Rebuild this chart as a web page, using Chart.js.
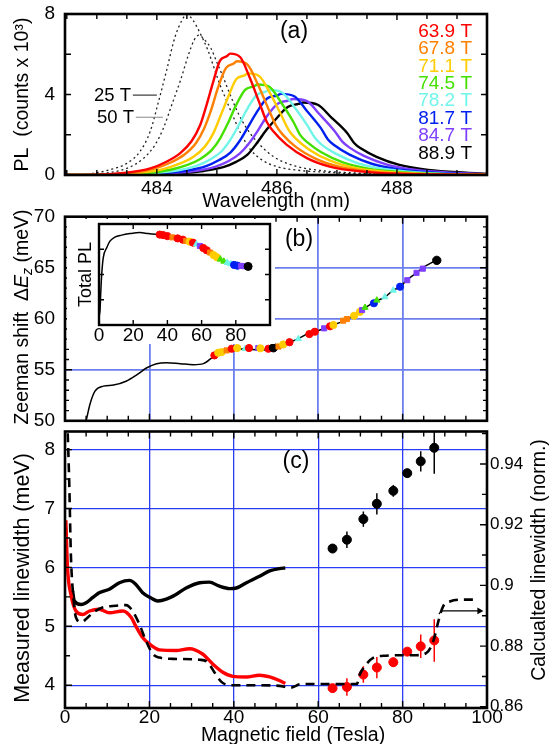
<!DOCTYPE html>
<html>
<head>
<meta charset="utf-8">
<script src="https://cdn.jsdelivr.net/npm/chart.js@4.4.1/dist/chart.umd.min.js"></script>
<style>
  html, body { margin: 0; padding: 0; background: #fff; }
  #wrap { position: relative; width: 554px; height: 744px; overflow: hidden; }
  canvas { position: absolute; }
</style>
</head>
<body>
<div id="wrap">
  <canvas id="chartA" style="left:0;top:0" width="554" height="213"></canvas>
  <canvas id="chartB" style="left:0;top:190px" width="554" height="236"></canvas>
  <canvas id="chartInset" style="left:67px;top:219px;background:#fff" width="208" height="125"></canvas>
  <canvas id="chartC" style="left:0;top:426px" width="554" height="318"></canvas>
</div>
<script>
// ---- data ----
const fieldLabels = ['63.9 T', '67.8 T', '71.1 T', '74.5 T', '78.2 T', '81.7 T', '84.7 T', '88.9 T'];
const seriesColors = ['#ff0000', '#ff8000', '#ffcc00', '#44e000', '#70f5e8', '#0020f0', '#7f3fff', '#000000'];
const seriesShapes = ['circle', 'rect', 'circle', 'triangle', 'triangle', 'circle', 'rect', 'circle'];

// (a) PL spectra: [wavelength (nm), counts x 1000]
const spec63_9 = [[482.5,0],[482.82,0],[483.50,0.12],[483.89,0.33],[484.16,0.66],[484.39,1.09],[484.58,1.69],[484.72,2.47],[484.83,3.50],[484.94,4.64],[485.05,5.67],[485.17,5.91],[485.22,6.03],[485.39,5.85],[485.55,4.82],[485.72,3.50],[485.83,2.65],[485.94,2.17],[486.16,1.51],[486.50,0.84],[486.88,0.42],[487.39,0.18],[488.02,0.06],[489.5,0.01]];
const spec67_8 = [[482.5,0],[482.90,0],[483.55,0.11],[483.95,0.31],[484.23,0.62],[484.46,1.02],[484.65,1.58],[484.79,2.32],[484.91,3.28],[485.02,4.35],[485.15,5.31],[485.28,5.54],[485.33,5.65],[485.51,5.48],[485.68,4.52],[485.86,3.28],[485.98,2.49],[486.09,2.03],[486.31,1.41],[486.66,0.79],[487.05,0.40],[487.58,0.17],[488.21,0.06],[489.5,0.01]];
const spec71_1 = [[482.5,0],[483.05,0],[483.68,0.10],[484.09,0.28],[484.38,0.56],[484.61,0.91],[484.80,1.41],[484.94,2.07],[485.06,2.93],[485.19,3.89],[485.32,4.75],[485.46,4.95],[485.52,5.05],[485.71,4.90],[485.89,4.04],[486.08,2.93],[486.20,2.22],[486.31,1.82],[486.54,1.26],[486.89,0.71],[487.30,0.35],[487.84,0.15],[488.48,0.05],[489.5,0.01]];
const spec74_5 = [[482.5,0],[483.18,0],[483.78,0.09],[484.21,0.25],[484.51,0.50],[484.73,0.81],[484.92,1.26],[485.06,1.85],[485.19,2.61],[485.32,3.47],[485.47,4.23],[485.62,4.41],[485.68,4.50],[485.88,4.37],[486.07,3.60],[486.28,2.61],[486.39,1.98],[486.51,1.62],[486.74,1.13],[487.10,0.63],[487.52,0.32],[488.08,0.14],[488.72,0.05],[489.5,0.02]];
const spec78_2 = [[482.5,0],[483.34,0],[483.91,0.08],[484.36,0.23],[484.67,0.46],[484.88,0.76],[485.08,1.18],[485.22,1.73],[485.36,2.45],[485.50,3.25],[485.66,3.97],[485.81,4.14],[485.88,4.22],[486.09,4.09],[486.29,3.38],[486.51,2.45],[486.63,1.86],[486.74,1.52],[486.98,1.06],[487.34,0.59],[487.78,0.30],[488.36,0.13],[489.00,0.04],[489.5,0.02]];
const spec81_7 = [[482.5,0],[483.50,0],[484.04,0.08],[484.50,0.22],[484.82,0.44],[485.03,0.73],[485.23,1.13],[485.37,1.65],[485.51,2.34],[485.66,3.10],[485.83,3.79],[486.00,3.95],[486.07,4.03],[486.29,3.91],[486.49,3.22],[486.73,2.34],[486.85,1.77],[486.97,1.45],[487.21,1.01],[487.58,0.56],[488.03,0.28],[488.63,0.12],[489.27,0.04],[489.5,0.03]];
const spec84_7 = [[482.5,0],[483.66,0],[484.18,0.08],[484.66,0.21],[484.98,0.42],[485.19,0.68],[485.38,1.06],[485.53,1.55],[485.68,2.19],[485.83,2.91],[486.02,3.55],[486.19,3.70],[486.27,3.78],[486.50,3.67],[486.71,3.02],[486.96,2.19],[487.09,1.66],[487.21,1.36],[487.45,0.95],[487.82,0.53],[488.29,0.26],[488.90,0.11],[489.5,0.04]];
const spec88_9 = [[482.5,0],[483.80,0],[484.29,0.07],[484.78,0.20],[485.12,0.40],[485.32,0.65],[485.51,1.01],[485.67,1.60],[485.82,2.22],[485.98,2.77],[486.18,3.38],[486.36,3.53],[486.44,3.60],[486.68,3.49],[486.90,2.88],[487.17,2.09],[487.29,1.58],[487.41,1.30],[487.66,0.90],[488.04,0.50],[488.52,0.25],[489.15,0.11],[489.5,0.06]];
const spec25T = [[482.5,0],[482.8,0.03],[483.2,0.25],[483.5,0.58],[483.72,1.17],[483.89,2.17],[484.03,3.67],[484.16,5.17],[484.3,6.83],[484.42,7.7],[484.5,7.98],[484.6,7.7],[484.72,7.05],[484.85,6.2],[484.95,5.35],[485.05,4.5],[485.16,3.7],[485.28,2.85],[485.4,2.05],[485.55,1.3],[485.75,0.75],[486.0,0.42],[486.4,0.22],[486.8,0.14],[487.3,0.05],[488.0,0],[489.5,0]];
const spec50T = [[482.5,0],[483.1,0.08],[483.5,0.33],[483.78,0.83],[483.97,1.5],[484.11,2.33],[484.25,3.5],[484.39,4.67],[484.53,6.0],[484.62,6.7],[484.7,6.95],[484.8,6.7],[484.9,6.3],[485.0,5.6],[485.1,4.9],[485.22,4.0],[485.35,3.1],[485.5,2.3],[485.7,1.55],[485.95,0.9],[486.3,0.45],[486.8,0.2],[487.3,0.1],[488.0,0.03],[489.5,0]];
const spectra = [spec63_9, spec67_8, spec71_1, spec74_5, spec78_2, spec81_7, spec84_7, spec88_9];

// (b) Zeeman shift (meV) vs field (T)
const zeemanField = [4.6,5.0,5.9,7.1,9.1,11.5,14.6,17.0,19.4,21.7,24.1,27.3,30.4,32.8,35.2,37.2,40.0,43.1,47.8,49.5,51.8,55.4,58.1,59.7,61.7,63.3,66.4,68.4,70.4,73.9,75.9,77.8,79.4,81.0,83.3,84.8,88.1];
const zeemanShift = [49.5,50.0,51.6,52.9,53.4,53.5,53.9,54.5,55.2,55.6,55.7,55.6,55.5,55.6,56.3,56.8,57.1,57.0,56.95,57.1,57.45,58.07,58.65,58.78,59.1,59.36,59.84,60.32,60.9,61.76,62.15,62.8,63.1,63.8,64.5,65.0,65.77];
const zeemanMarkerField = [35.4,36.3,37.1,38.3,39.5,40.8,42.7,43.6,45.8,46.3,48.2,49.4,50.6,51.7,53.2,55.3,57.9,59.2,61.4,62.8,63.6,65.9,66.8,68.5,69.9,70.4,71.1,73.2,73.9,75.8,77.8,79.4,81.1,83.3,84.8,88.1];
const zeemanMarkerShift = [56.41,56.67,56.73,56.9,57.06,57.13,57.06,57.13,57.13,57.1,57.06,57.16,57.28,57.48,57.7,58.03,58.5,58.73,59.06,59.26,59.39,59.81,59.97,60.29,60.68,60.85,61.1,61.52,61.81,62.13,62.78,63.14,63.78,64.5,64.91,65.72];
const zeemanMarkerSeries = [0,2,2,1,0,2,4,0,6,2,0,7,1,2,0,4,0,0,6,0,2,1,1,2,2,6,3,5,3,4,4,5,6,6,6,7];

// (b) inset: total PL (arb.)
const totalPLField = [0.2,0.6,1.0,1.6,2.5,4.5,6.4,9.3,13.2,18.1,23.9,28.8,34.6,39.5,45.3,51.2,57.0,62.8,68.7,74.5,80.4,87.2];
const totalPL = [0.4,0.59,1.24,2.02,2.67,3.06,3.32,3.48,3.56,3.62,3.66,3.62,3.58,3.5,3.43,3.32,3.17,2.96,2.70,2.48,2.37,2.32];
const insetMarkerField = [35.5,37.5,40,43,46,49,51,53,55,57,59,61,63,65,67,69,71,73,75,77,79,81,83,85,87.2];
const insetMarkerPL = [3.58,3.56,3.52,3.47,3.43,3.38,3.33,3.3,3.26,3.2,3.13,3.05,2.96,2.87,2.77,2.68,2.6,2.52,2.47,2.42,2.38,2.35,2.34,2.33,2.32];
const insetMarkerSeries = [0,0,0,1,0,0,1,2,0,4,6,0,0,1,2,2,3,3,4,4,5,5,6,6,7];

// (c) linewidths
const redCurveField = [0.2,0.6,1.4,2.6,4.2,5.8,8.1,10.5,13.7,15.7,16.8,18.4,20.0,22.4,26.3,29.5,32.6,35.0,37.4,39.8,42.9,46.1,48.5,50.8,52.2];
const redCurveWidth = [6.8,5.99,5.54,5.26,5.2,5.26,5.29,5.23,5.26,5.15,5.0,4.81,4.7,4.6,4.59,4.62,4.53,4.36,4.22,4.15,4.14,4.17,4.14,4.08,4.03];
const blackCurveField = [1.8,2.2,3.8,5.0,6.6,8.1,10.5,12.9,15.3,16.8,18.4,20.4,22.0,24.0,26.3,28.7,31.9,34.2,36.6,39.0,40.6,43.0,46.1,48.5,50.8,52.2];
const blackCurveWidth = [5.6,5.43,5.37,5.4,5.49,5.57,5.63,5.74,5.78,5.71,5.57,5.48,5.43,5.46,5.54,5.65,5.74,5.75,5.68,5.64,5.65,5.74,5.85,5.94,5.98,5.99];
const calcField = [0.4,1.0,1.4,2.0,2.6,3.8,5.0,6.6,8.9,12.1,14.5,16.0,17.6,19.2,20.8,22.4,25.5,31.9,33.8,35.4,37.0,39.0,44.5,50.8,53.4,56.0,69.2,69.6,71.1,73.1,75.5,80.2,83.3,85.7,87.3,88.5,89.6,91.2,93.6,97.5];
const calcWidth = [0.96,0.9341,0.9098,0.8960,0.8894,0.8879,0.8889,0.8910,0.8927,0.8933,0.8935,0.8916,0.8873,0.8817,0.8774,0.8762,0.8758,0.8755,0.8747,0.8714,0.8683,0.8671,0.8671,0.8669,0.8663,0.8675,0.8675,0.8698,0.8735,0.8762,0.8768,0.8770,0.8770,0.8778,0.8817,0.8883,0.8931,0.8947,0.8953,0.8953];
const arrowField = [88.6, 89.2, 98.2];
const arrowWidth = [0.8905, 0.8916, 0.8916];
const dotField = [63.4, 66.8, 70.7, 73.9, 77.8, 81.1, 84.3, 87.5];
const dotWidthBlack = [6.32, 6.47, 6.82, 7.08, 7.30, 7.60, 7.80, 8.03];
const dotErrBlack = [0.05, 0.14, 0.13, 0.18, 0.10, 0.07, 0.17, 0.44];
const dotWidthRed = [3.95, 3.97, 4.18, 4.30, 4.39, 4.57, 4.66, 4.76];
const dotErrRed = [0.05, 0.15, 0.14, 0.18, 0.08, 0.06, 0.20, 0.36];

// ---- helpers ----
const FAM = "'Liberation Sans', Arial, Helvetica, sans-serif";
const tickFont = { family: FAM, size: 19 };
const zip = (xs, ys) => xs.map((x, i) => ({ x: x, y: ys[i] }));
const errorBars = (xs, ys, es) => {
  const out = [];
  xs.forEach((x, i) => {
    out.push({ x: x, y: ys[i] - es[i] }, { x: x, y: ys[i] + es[i] }, { x: x, y: null });
  });
  return out;
};
// fix axis box sizes so the plot areas line up across the three panels
const fitW = w => s => { s.width = w; s.paddingTop = 0; s.paddingBottom = 0; };
const fitH = h => s => { s.height = h; s.paddingLeft = 0; s.paddingRight = 0; };

// frame and inward tick marks
const frameTicks = {
  id: 'frameTicks',
  afterDatasetsDraw(chart, args, opts) {
    const ctx = chart.ctx, a = chart.chartArea;
    ctx.save();
    ctx.strokeStyle = '#000';
    ctx.lineWidth = 1.4;
    (opts.sets || []).forEach(s => {
      const sc = chart.scales[s.scale];
      const first = Math.ceil(sc.min / s.step - 1e-6), last = Math.floor(sc.max / s.step + 1e-6);
      ctx.beginPath();
      for (let k = first; k <= last; k++) {
        const v = k * s.step;
        const q = v / s.major;
        const len = Math.abs(q - Math.round(q)) < 1e-6 ? s.long : s.short;
        const p = sc.getPixelForValue(v);
        s.sides.forEach(side => {
          if (side === 'bottom') { ctx.moveTo(p, a.bottom); ctx.lineTo(p, a.bottom - len); }
          if (side === 'top') { ctx.moveTo(p, a.top); ctx.lineTo(p, a.top + len); }
          if (side === 'left') { ctx.moveTo(a.left, p); ctx.lineTo(a.left + len, p); }
          if (side === 'right') { ctx.moveTo(a.right, p); ctx.lineTo(a.right - len, p); }
        });
      }
      ctx.stroke();
    });
    ctx.lineWidth = opts.border || 2.5;
    ctx.strokeRect(a.left, a.top, a.right - a.left, a.bottom - a.top);
    ctx.restore();
  }
};

function drawText(ctx, text, x, y, size, color, align, rot) {
  ctx.save();
  ctx.translate(x, y);
  if (rot) ctx.rotate(rot);
  ctx.font = size + 'px ' + FAM;
  ctx.fillStyle = color || '#000';
  ctx.textAlign = align || 'center';
  ctx.textBaseline = 'middle';
  ctx.fillText(text, 0, 0);
  ctx.restore();
}

function drawRich(ctx, parts, x, y, rot) {
  ctx.save();
  ctx.translate(x, y);
  ctx.rotate(rot);
  let total = 0;
  parts.forEach(p => { ctx.font = p.font; p.w = ctx.measureText(p.t).width; total += p.w; });
  let cx = -total / 2;
  ctx.fillStyle = '#000';
  ctx.textAlign = 'left';
  ctx.textBaseline = 'middle';
  parts.forEach(p => { ctx.font = p.font; ctx.fillText(p.t, cx, p.dy || 0); cx += p.w; });
  ctx.restore();
}

const common = {
  responsive: false,
  animation: false,
  devicePixelRatio: 1,
  events: [],
  elements: { point: { radius: 0 } }
};

// ---- (a) spectra ----
const aDatasets = spectra.map((s, i) => ({
  data: s.map(p => ({ x: p[0], y: p[1] })),
  showLine: true,
  borderColor: seriesColors[i],
  borderWidth: 2.4,
  pointRadius: 0,
  cubicInterpolationMode: 'monotone'
}));
[spec25T, spec50T].forEach(s => aDatasets.push({
  data: s.map(p => ({ x: p[0], y: p[1] })),
  showLine: true,
  borderColor: '#222',
  borderWidth: 1.3,
  borderDash: [2, 3],
  pointRadius: 0,
  cubicInterpolationMode: 'monotone'
}));

const labelsA = {
  id: 'labelsA',
  afterDraw(chart) {
    const ctx = chart.ctx;
    const xs = chart.scales.x, ys = chart.scales.y;
    drawText(ctx, '(a)', 294, 32, 23);
    fieldLabels.forEach((t, i) => drawText(ctx, t, 472, 31.7 + i * 17.37, 19, seriesColors[i], 'right'));
    // 25 T / 50 T leader lines
    ctx.save();
    ctx.lineWidth = 1;
    ctx.strokeStyle = '#111';
    ctx.beginPath();
    ctx.moveTo(xs.getPixelForValue(483.6), ys.getPixelForValue(3.97));
    ctx.lineTo(xs.getPixelForValue(484.0), ys.getPixelForValue(3.97));
    ctx.stroke();
    ctx.strokeStyle = '#888';
    ctx.beginPath();
    ctx.moveTo(xs.getPixelForValue(483.65), ys.getPixelForValue(2.87));
    ctx.lineTo(xs.getPixelForValue(484.1), ys.getPixelForValue(2.87));
    ctx.stroke();
    ctx.restore();
    drawText(ctx, '25 T', xs.getPixelForValue(483.57), ys.getPixelForValue(3.97) + 1, 18.5, '#000', 'right');
    drawText(ctx, '50 T', xs.getPixelForValue(483.62), ys.getPixelForValue(2.87) + 1, 18.5, '#000', 'right');
  }
};

new Chart(document.getElementById('chartA'), {
  type: 'scatter',
  data: { datasets: aDatasets },
  options: Object.assign({}, common, {
    layout: { padding: { top: 14, right: 67, left: 0, bottom: 0 } },
    plugins: {
      legend: { display: false }, tooltip: { enabled: false },
      frameTicks: {
        border: 2.6,
        sets: [
          { scale: 'x', step: 0.5, major: 2, long: 6, short: 5, sides: ['top', 'bottom'] },
          { scale: 'y', step: 2, major: 4, long: 6, short: 6, sides: ['left', 'right'] }
        ]
      }
    },
    scales: {
      x: {
        type: 'linear', min: 482.47, max: 489.5,
        afterFit: fitH(38),
        grid: { display: false, drawTicks: false }, border: { display: false },
        ticks: { stepSize: 2, includeBounds: false, padding: 2, color: '#000', font: tickFont, maxRotation: 0 },
        title: { display: true, text: 'Wavelength (nm)', color: '#000', font: { family: FAM, size: 19.5 }, padding: { top: 0, bottom: 0 } }
      },
      y: {
        min: 0, max: 8,
        afterFit: fitW(65),
        grid: { display: false, drawTicks: false }, border: { display: false },
        ticks: { stepSize: 4, includeBounds: false, padding: 10, color: '#000', font: tickFont },
        title: { display: true, text: 'PL  (counts x 10\u00B3)', color: '#000', font: { family: FAM, size: 19.5 }, padding: { top: 11, bottom: 0 } }
      }
    }
  }),
  plugins: [frameTicks, labelsA]
});

// ---- (b) Zeeman shift ----
const labelsB = {
  id: 'labelsB',
  afterDraw(chart) {
    const ctx = chart.ctx;
    drawText(ctx, '(b)', 299, 50, 23);
    const f = 19.5 + 'px ' + FAM, fi = 'italic ' + 19.5 + 'px ' + FAM, fs = 'italic 14px ' + FAM;
    drawRich(ctx, [
      { t: 'Zeeman shift  \u0394', font: f },
      { t: 'E', font: fi },
      { t: 'z', font: fs, dy: 5 },
      { t: ' (meV)', font: f }
    ], 23, 127, -Math.PI / 2);
  }
};

new Chart(document.getElementById('chartB'), {
  type: 'scatter',
  data: {
    datasets: [
      {
        data: zip(zeemanMarkerField, zeemanMarkerShift),
        pointRadius: zeemanMarkerSeries.map(k => k === 7 ? 4.2 : 3.6),
        pointStyle: zeemanMarkerSeries.map(k => seriesShapes[k]),
        pointBackgroundColor: zeemanMarkerSeries.map(k => seriesColors[k]),
        pointBorderColor: zeemanMarkerSeries.map(k => seriesColors[k]),
        pointBorderWidth: 1
      },
      {
        data: zip(zeemanField, zeemanShift),
        showLine: true, borderColor: '#000', borderWidth: 1.5, pointRadius: 0,
        cubicInterpolationMode: 'monotone'
      }
    ]
  },
  options: Object.assign({}, common, {
    layout: { padding: { top: 26.7, right: 67, left: 0, bottom: 0 } },
    plugins: {
      legend: { display: false }, tooltip: { enabled: false },
      frameTicks: {
        border: 2.6,
        sets: [
          { scale: 'x', step: 5, major: 20, long: 7, short: 5, sides: ['top', 'bottom'] },
          { scale: 'y', step: 1, major: 5, long: 7, short: 4, sides: ['left', 'right'] }
        ]
      }
    },
    scales: {
      x: {
        type: 'linear', min: 0, max: 100,
        afterFit: fitH(3),
        grid: { color: '#6d7fee', lineWidth: 1.8, drawTicks: false }, border: { display: false },
        ticks: { display: false, stepSize: 20, includeBounds: false }
      },
      y: {
        min: 50, max: 70,
        afterFit: fitW(65),
        grid: { color: '#6d7fee', lineWidth: 1.8, drawTicks: false }, border: { display: false },
        ticks: { stepSize: 5, includeBounds: false, padding: 10, color: '#000', font: tickFont }
      }
    }
  }),
  plugins: [frameTicks, labelsB]
});

// ---- (b) inset: total PL ----
new Chart(document.getElementById('chartInset'), {
  type: 'scatter',
  data: {
    datasets: [
      {
        data: zip(insetMarkerField, insetMarkerPL),
        pointRadius: insetMarkerSeries.map(k => k === 7 ? 4 : 3.6),
        pointStyle: insetMarkerSeries.map(k => seriesShapes[k]),
        pointBackgroundColor: insetMarkerSeries.map(k => seriesColors[k]),
        pointBorderColor: insetMarkerSeries.map(k => seriesColors[k]),
        pointBorderWidth: 1
      },
      {
        data: zip(totalPLField, totalPL),
        showLine: true, borderColor: '#000', borderWidth: 1.5, pointRadius: 0,
        cubicInterpolationMode: 'monotone'
      }
    ]
  },
  options: Object.assign({}, common, {
    layout: { padding: { top: 4, right: 5, left: 0, bottom: 0 } },
    plugins: {
      legend: { display: false }, tooltip: { enabled: false },
      frameTicks: {
        border: 2.4,
        sets: [
          { scale: 'x', step: 20, major: 20, long: 5, short: 5, sides: ['top', 'bottom'] },
          { scale: 'y', step: 1, major: 1, long: 5, short: 5, sides: ['left', 'right'] }
        ]
      }
    },
    scales: {
      x: {
        type: 'linear', min: 0, max: 100,
        afterFit: fitH(19),
        grid: { display: false, drawTicks: false }, border: { display: false },
        ticks: { stepSize: 20, includeBounds: false, padding: -1, color: '#000', font: tickFont, maxRotation: 0, autoSkip: false,
          callback: v => (v === 100 ? '' : v) }
      },
      y: {
        min: 0, max: 4,
        afterFit: fitW(32),
        grid: { display: false, drawTicks: false }, border: { display: false },
        ticks: { display: false, stepSize: 1 },
        title: { display: true, text: 'Total PL', color: '#000', font: { family: FAM, size: 18 }, padding: { top: 8, bottom: 0 } }
      }
    }
  }),
  plugins: [frameTicks]
});

// ---- (c) linewidths ----
const labelsC = {
  id: 'labelsC',
  afterDraw(chart) {
    const ctx = chart.ctx;
    drawText(ctx, '(c)', 296, 36, 23);
    drawText(ctx, 'Magnetic field (Tesla)', 293, 310, 19.5);
    drawText(ctx, 'Measured linewidth (meV)', 23, 152, 21.5, '#000', 'center', -Math.PI / 2);
    drawText(ctx, 'Calcualted linewidth (norm.)', 540, 134, 19.5, '#000', 'center', -Math.PI / 2);
  }
};

new Chart(document.getElementById('chartC'), {
  type: 'scatter',
  data: {
    datasets: [
      {
        data: zip(calcField, calcWidth), yAxisID: 'y2',
        showLine: true, borderColor: '#000', borderWidth: 2.6, borderDash: [9, 6], pointRadius: 0,
        cubicInterpolationMode: 'monotone'
      },
      {
        data: zip(redCurveField, redCurveWidth),
        showLine: true, borderColor: '#ff0000', borderWidth: 3.4, pointRadius: 0,
        cubicInterpolationMode: 'monotone'
      },
      {
        data: zip(blackCurveField, blackCurveWidth),
        showLine: true, borderColor: '#000', borderWidth: 3.4, pointRadius: 0,
        cubicInterpolationMode: 'monotone'
      },
      {
        data: errorBars(dotField, dotWidthBlack, dotErrBlack),
        showLine: true, spanGaps: false, borderColor: '#000', borderWidth: 1.5, pointRadius: 0
      },
      {
        data: errorBars(dotField, dotWidthRed, dotErrRed),
        showLine: true, spanGaps: false, borderColor: '#ff0000', borderWidth: 1.5, pointRadius: 0
      },
      {
        data: zip(dotField, dotWidthBlack),
        pointRadius: 4.5, pointBackgroundColor: '#000', pointBorderColor: '#000'
      },
      {
        data: zip(dotField, dotWidthRed),
        pointRadius: 4.5, pointBackgroundColor: '#ff0000', pointBorderColor: '#ff0000'
      },
      {
        data: zip(arrowField, arrowWidth), yAxisID: 'y2',
        showLine: true, borderColor: '#000', borderWidth: 1.2,
        pointRadius: [0, 0, 4], pointStyle: 'triangle', rotation: 90,
        pointBackgroundColor: '#000', pointBorderColor: '#000', pointBorderWidth: 0
      }
    ]
  },
  options: Object.assign({}, common, {
    layout: { padding: { top: 3, right: 0, left: 0, bottom: 0 } },
    plugins: {
      legend: { display: false }, tooltip: { enabled: false },
      frameTicks: {
        border: 2.6,
        sets: [
          { scale: 'x', step: 5, major: 20, long: 7, short: 5, sides: ['top', 'bottom'] },
          { scale: 'y', step: 0.5, major: 1, long: 7, short: 5, sides: ['left'] },
          { scale: 'y2', step: 0.01, major: 0.02, long: 7, short: 5, sides: ['right'] }
        ]
      }
    },
    scales: {
      x: {
        type: 'linear', min: 0, max: 100,
        afterFit: fitH(36),
        grid: { color: '#2a3cf5', lineWidth: 1.3, drawTicks: false }, border: { display: false },
        ticks: { stepSize: 20, includeBounds: false, padding: -2, color: '#000', font: tickFont, maxRotation: 0 }
      },
      y: {
        min: 3.613, max: 8.307,
        afterFit: fitW(65),
        grid: { color: '#2a3cf5', lineWidth: 1.3, drawTicks: false }, border: { display: false },
        ticks: { stepSize: 1, includeBounds: false, padding: 10, color: '#000', font: tickFont }
      },
      y2: {
        position: 'right', min: 0.8596, max: 0.9507,
        afterFit: fitW(67),
        grid: { drawOnChartArea: false, drawTicks: false }, border: { display: false },
        ticks: { stepSize: 0.02, includeBounds: false, padding: 3, color: '#000', font: { family: FAM, size: 17 },
          callback: v => String(+v.toFixed(2)) }
      }
    }
  }),
  plugins: [frameTicks, labelsC]
});
</script>
</body>
</html>
